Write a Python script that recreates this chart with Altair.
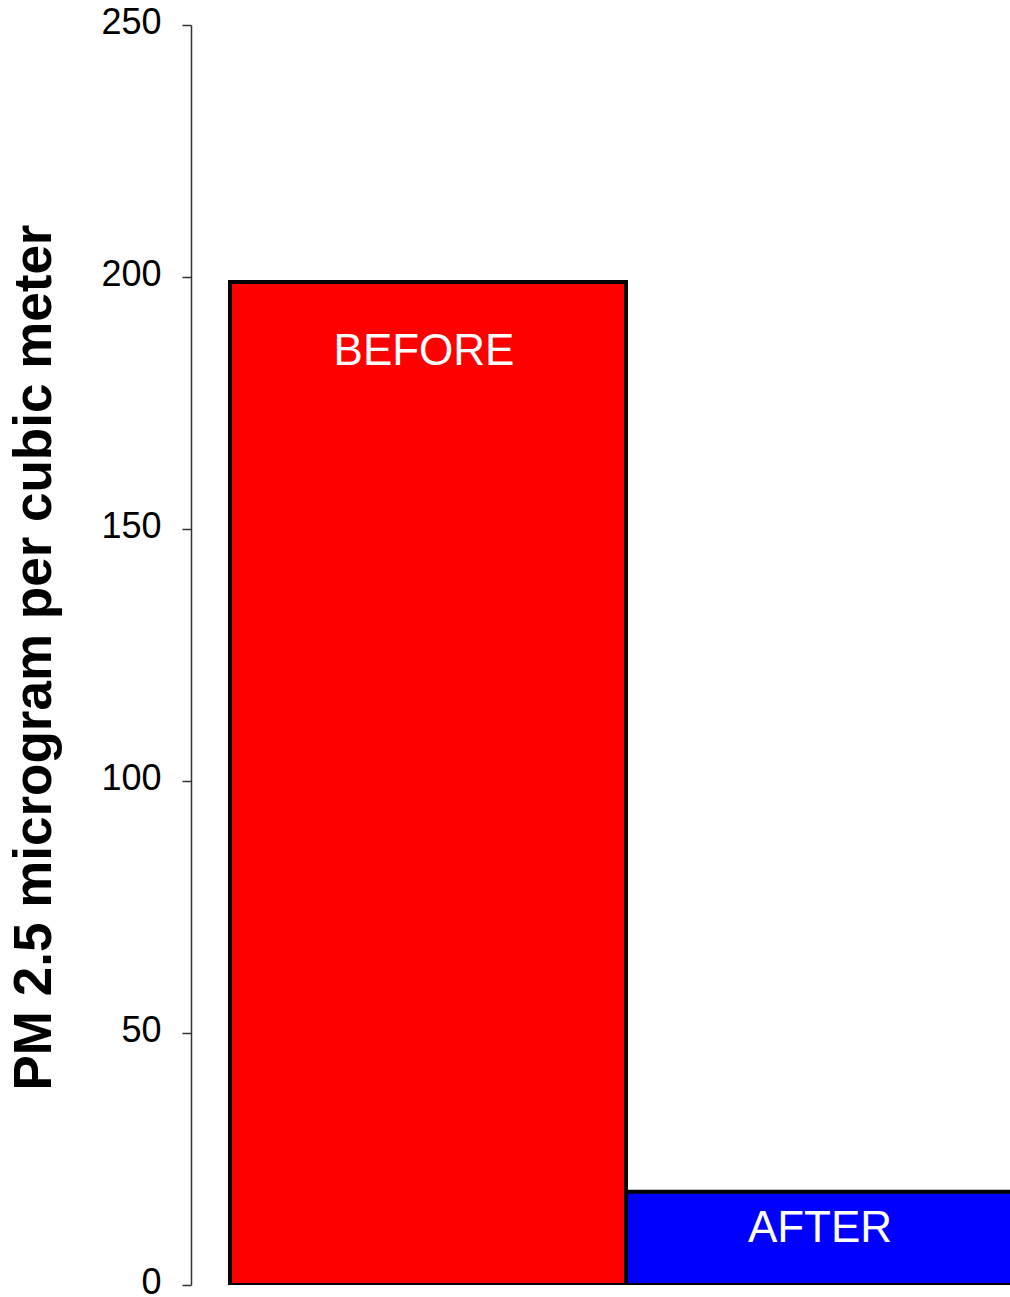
import altair as alt
import pandas as pd

categories = ["BEFORE", "AFTER"]
values = [199, 18.5]
label_values = [185.2, 11.1]
colors = ["#ff0000", "#0000ff"]
y_ticks = [0, 50, 100, 150, 200, 250]

df = pd.DataFrame({
    "cat": categories,
    "value": values,
    "label_y": label_values,
    "start": [i for i in range(len(categories))],
    "end": [i + 1 for i in range(len(categories))],
    "mid": [i + 0.5 for i in range(len(categories))],
    "base": [0] * len(categories),
})

xscale = alt.Scale(domain=[-0.0985, 1.9697], nice=False, zero=False)
yscale = alt.Scale(domain=[0, 250], nice=False, zero=True)

bars = alt.Chart(df).mark_rect(clip=True, stroke="black", strokeWidth=4).encode(
    x=alt.X("start:Q", scale=xscale, axis=None),
    x2="end:Q",
    y=alt.Y("value:Q", scale=yscale, axis=alt.Axis(
        values=y_ticks, grid=False, title="PM 2.5 microgram per cubic meter",
        titleFont="Liberation Sans", titleFontSize=53, titleFontWeight="bold",
        titleColor="black", titleAngle=-90, titleX=-141, titleY=632,
        titleAlign="center", titleBaseline="alphabetic",
        labelFont="Liberation Sans", labelFontSize=36, labelColor="black",
        labelPadding=21, labelOffset=-3, tickSize=9, tickColor="#333", tickWidth=1.5,
        domainColor="#333", domainWidth=1.5)),
    y2="base:Q",
    color=alt.Color("cat:N", scale=alt.Scale(domain=categories, range=colors), legend=None),
)

labels = alt.Chart(df).mark_text(clip=True, color="white", font="Liberation Sans",
                                 fontSize=44, align="center", baseline="middle", dx=-4).encode(
    x=alt.X("mid:Q", scale=xscale, axis=None),
    y=alt.Y("label_y:Q", scale=yscale),
    text="cat:N",
)

chart = (bars + labels).properties(
    width=819, height=1260,
    background="white",
    autosize=alt.AutoSizeParams(type="none"),
    padding={"left": 191, "top": 25, "right": 0, "bottom": 12},
).configure_view(stroke=None)

chart.save("out.html", embed_options={"renderer": "svg", "actions": False})
